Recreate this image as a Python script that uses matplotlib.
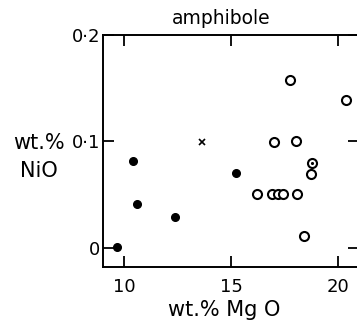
import matplotlib
matplotlib.use('Agg')
from matplotlib import pyplot as plt

# filled dots
filled_mgo = [9.66, 10.41, 10.60, 12.38, 15.24]
filled_nio = [0.001, 0.082, 0.041, 0.029, 0.070]

# open circles
open_mgo = [17.78, 20.41, 17.03, 18.06, 18.77, 16.23, 16.94, 17.22, 17.45, 18.11, 18.44]
open_nio = [0.158, 0.139, 0.099, 0.100, 0.069, 0.051, 0.051, 0.051, 0.051, 0.051, 0.011]

# circle with dot
dotted_mgo = [18.81]
dotted_nio = [0.080]

# cross
cross_mgo = [13.65]
cross_nio = [0.099]

xticks = [10, 15, 20]
yticks = [0, 0.1, 0.2]
ytick_labels = ['0', '0·1', '0·2']

plt.rcParams['font.family'] = ['DejaVu Sans']

fig = plt.figure(figsize=(3.57, 3.27), dpi=100)
ax = fig.add_axes([0.2885, 0.1835, 0.717, 0.7095])

ax.plot(filled_mgo, filled_nio, 'o', color='black', markersize=5.5, clip_on=False)
ax.plot(open_mgo, open_nio, 'o', mfc='white', mec='black', mew=1.5,
        markersize=6.5, clip_on=False)
ax.plot(dotted_mgo, dotted_nio, 'o', mfc='white', mec='black', mew=1.5,
        markersize=6.5, clip_on=False)
ax.plot(dotted_mgo, dotted_nio, '.', color='black', markersize=2.5)
ax.plot(cross_mgo, cross_nio, 'x', color='black', markersize=4, mew=1.2)

ax.set_xlim(9, 21)
ax.set_ylim(-0.018, 0.2)
ax.set_xticks(xticks)
ax.set_xticklabels([str(t) for t in xticks])
ax.set_yticks(yticks)
ax.set_yticklabels(ytick_labels)

ax.tick_params(direction='in', length=8, width=1.3, labelsize=13,
               top=True, right=True)
ax.tick_params(axis='x', pad=8)
ax.tick_params(axis='y', pad=2)
for s in ax.spines.values():
    s.set_linewidth(1.4)

ax.text(14.54, 0.207, 'amphibole', ha='center', va='bottom', fontsize=13.5)
fig.text(0.11, 0.52, 'wt.%\nNiO', ha='center', va='center', fontsize=15,
         multialignment='center', linespacing=1.5)
fig.text(0.627, 0.052, 'wt.% Mg O', ha='center', va='center', fontsize=15)

fig.savefig('out.png', dpi=100)
